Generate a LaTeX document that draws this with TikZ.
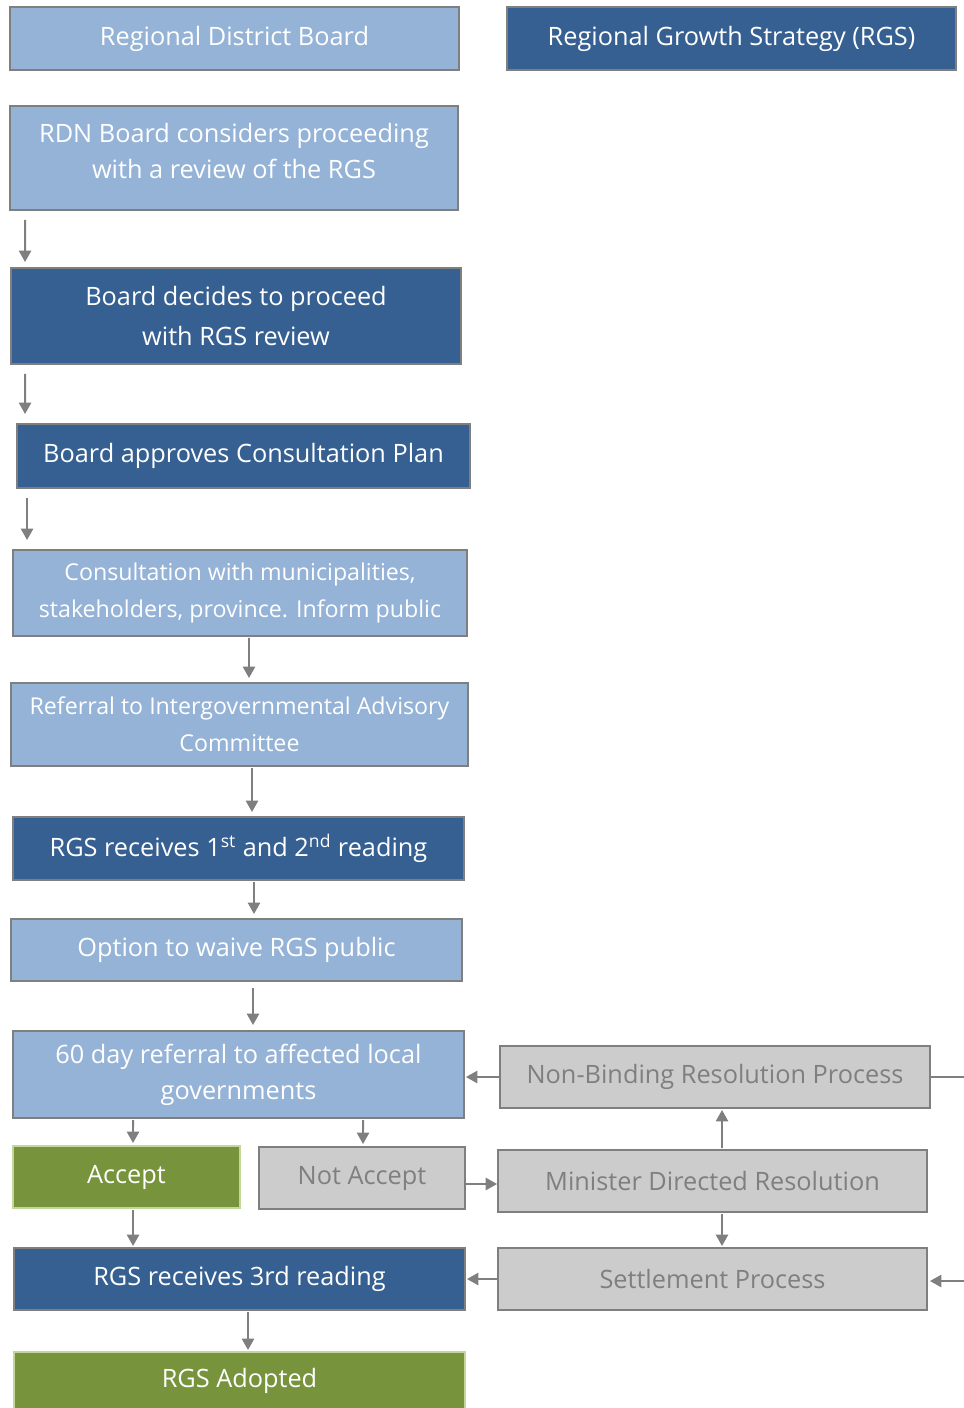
\documentclass[tikz,border=0pt]{standalone}
\usepackage{fontspec}
\setmainfont{Open Sans}
\usepackage{tikz}
\usetikzlibrary{arrows.meta,calc}
\definecolor{lightblue}{HTML}{95B3D7}
\definecolor{darkblue}{HTML}{366092}
\definecolor{leafgreen}{HTML}{77933C}
\definecolor{palegreen}{HTML}{C3D69B}
\definecolor{boxgrey}{HTML}{CCCCCC}
\definecolor{edgegrey}{HTML}{7F7F7F}

\begin{document}
\begin{tikzpicture}[x=0.02cm,y=-0.02cm,
  every node/.style={draw=edgegrey,line width=0.9pt,inner sep=0pt,outer sep=0pt,align=center,
    text=white,font=\fontsize{14.4}{20.4}\selectfont},
  lightbox/.style={fill=lightblue},
  darkbox/.style={fill=darkblue},
  greenbox/.style={fill=leafgreen,draw=palegreen},
  greybox/.style={fill=boxgrey,text=edgegrey},
  smalltext/.style={font=\fontsize{13.2}{21}\selectfont},
  arr/.style={draw=edgegrey,line width=1.1pt,-{Triangle[length=6.5pt,width=7pt]}}]
  \useasboundingbox (0,0) rectangle (963,1408);
  % left column
  \node[lightbox,minimum width=8.98cm,minimum height=1.26cm] (rdb) at (234.5,38.5) {Regional District Board};
  \node[lightbox,minimum width=8.96cm,minimum height=2.08cm] (consider) at (234,158) {RDN Board considers proceeding\\with a review of the RGS\\[-12pt]};
  \node[darkbox,minimum width=9.0cm,minimum height=1.92cm,font=\fontsize{14.4}{23.2}\selectfont] (decide) at (236,316) {Board decides to proceed\\with RGS review};
  \node[darkbox,minimum width=9.06cm,minimum height=1.28cm] (plan) at (243.5,456) {Board approves Consultation Plan};
  \node[lightbox,smalltext,minimum width=9.08cm,minimum height=1.72cm] (consult) at (240,593) {Consultation with municipalities,\\stakeholders, province. Inform public};
  \node[lightbox,smalltext,minimum width=9.14cm,minimum height=1.66cm] (referral) at (239.5,724.5) {Referral to Intergovernmental Advisory\\Committee};
  \node[darkbox,minimum width=9.02cm,minimum height=1.26cm] (firstread) at (238.5,848.5) {RGS receives 1\textsuperscript{st} and 2\textsuperscript{nd} reading};
  \node[lightbox,minimum width=9.02cm,minimum height=1.24cm] (waive) at (236.5,950) {Option to waive RGS public};
  \node[lightbox,minimum width=9.02cm,minimum height=1.74cm] (localgov) at (238.5,1074.5) {60 day referral to affected local\\governments};
  \node[greenbox,minimum width=4.54cm,minimum height=1.24cm] (accept) at (126.5,1177) {Accept};
  \node[greybox,minimum width=4.12cm,minimum height=1.24cm] (notaccept) at (362,1178) {Not Accept};
  \node[darkbox,minimum width=9.02cm,minimum height=1.24cm] (thirdread) at (239.5,1279) {RGS receives 3rd reading};
  \node[greenbox,minimum width=9.02cm,minimum height=1.16cm] (adopted) at (239.5,1381) {RGS Adopted};
  % right column
  \node[darkbox,minimum width=8.98cm,minimum height=1.26cm] (rgs) at (731.5,38.5) {Regional Growth Strategy (RGS)};
  \node[greybox,minimum width=8.6cm,minimum height=1.24cm] (nonbinding) at (715,1077) {Non-Binding Resolution Process};
  \node[greybox,minimum width=8.58cm,minimum height=1.24cm] (minister) at (712.5,1181) {Minister Directed Resolution};
  \node[greybox,minimum width=8.58cm,minimum height=1.24cm] (settle) at (712.5,1279) {Settlement Process};
  \coordinate (outA) at (965,1077);
  \coordinate (outB) at (965,1281);
  % connectors
  \draw[arr] ($(consider.south west)+(15,10)$) -- ($(decide.north west)+(14,-6)$);
  \draw[arr] ($(decide.south west)+(14,10)$) -- ($(plan.north west)+(8,-10)$);
  \draw[arr] ($(plan.south west)+(10,10)$) -- ($(consult.north west)+(14,-10)$);
  \draw[arr] ($(consult.south)+(9,2)$) -- ($(referral.north)+(9.5,-5)$);
  \draw[arr] ($(referral.south)+(12.5,2)$) -- ($(firstread.north)+(13.5,-5)$);
  \draw[arr] ($(firstread.south)+(15.5,2)$) -- ($(waive.north)+(17.5,-5)$);
  \draw[arr] ($(waive.south)+(16.5,7)$) -- ($(localgov.north)+(14.5,-6)$);
  \draw[arr] ($(localgov.south west)+(120,2)$) -- ($(accept.north)+(6.5,-3)$);
  \draw[arr] ($(localgov.south west)+(350,2)$) -- ($(notaccept.north)+(1,-3)$);
  \draw[arr] ($(accept.south)+(6.5,2)$) -- ($(thirdread.north west)+(119,-2)$);
  \draw[arr] ($(notaccept.east)+(1,6)$) -- ($(minister.west)+(-1,3)$);
  \draw[arr] ($(minister.north)+(9.5,-2)$) -- ($(nonbinding.south)+(7,2)$);
  \draw[arr] ($(minister.south)+(9.5,2)$) -- ($(settle.north)+(9.5,-2)$);
  \draw[arr] (nonbinding.west) -- ($(localgov.east)+(2,2.5)$);
  \draw[arr] ($(settle.west)+(-1,0)$) -- ($(thirdread.east)+(2,0)$);
  \draw[arr] ($(thirdread.south)+(8.5,2)$) -- ($(adopted.north)+(8.5,-2)$);
  \draw[draw=edgegrey,line width=1.1pt] (nonbinding.east) -- (outA);
  \draw[arr] (outB) -- ($(settle.east)+(3,2)$);
\end{tikzpicture}
\end{document}
